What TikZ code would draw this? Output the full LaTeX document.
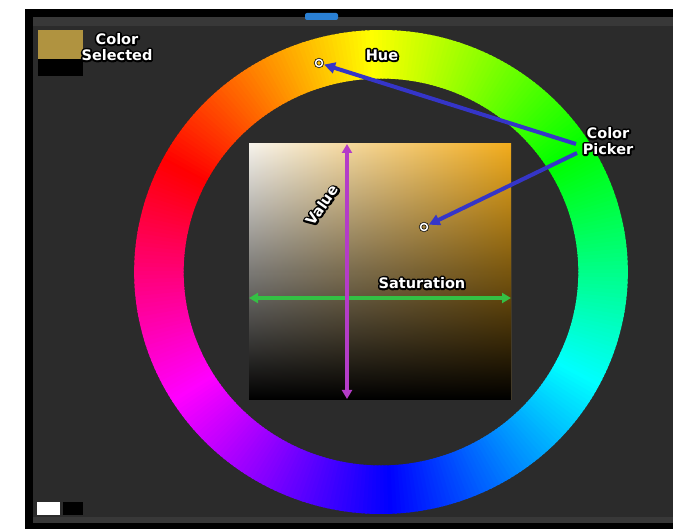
\documentclass[tikz,border=0pt]{standalone}
\usepackage{fontspec}
\setmainfont{DejaVu Sans}
\usetikzlibrary{arrows.meta,fadings}
\definecolor{panel}{HTML}{2B2B2B}
\definecolor{strip}{HTML}{383838}
\definecolor{tabblue}{HTML}{2A80D4}
\definecolor{gold}{HTML}{B09340}
\definecolor{pickblue}{HTML}{3535C8}
\definecolor{valpurple}{HTML}{B43CC8}
\definecolor{satgreen}{HTML}{34C044}
\definecolor{sqwhite}{HTML}{F6F3EC}
\definecolor{sqorange}{HTML}{F2AC1C}
\tikzfading[name=fadedown, top color=transparent!100, bottom color=transparent!0]
\newcommand\olt[1]{\leavevmode\rlap{\textcolor{black}{\special{pdf:literal 1 Tr 3.6 w 1 j 1 J 0 0 0 RG}#1\special{pdf:literal 0 Tr}}}\textcolor{white}{#1}}
\begin{document}
\begin{tikzpicture}[x=1pt,y=-1pt,
  lbl/.style={font=\bfseries\fontsize{14.5}{16}\selectfont, align=center, inner sep=0pt},
  pickr/.style={circle, draw=black, double=white, double distance=1.6pt, line width=0.7pt, minimum size=7pt, inner sep=0pt},
  bluearrow/.style={pickblue, line width=4pt, -{Triangle[length=11pt,width=11pt]}, shorten >=1.5pt},
  dblarrow/.style={line width=3.6pt, {Triangle[length=9pt,width=10pt]}-{Triangle[length=9pt,width=10pt]}}]
\useasboundingbox (0,0) rectangle (673,529);
% frame
\fill[white] (0,0) rectangle (673,529);
\fill[black] (25,9) rectangle (673,529);
\fill[strip] (33,17) rectangle (673,26);
\fill[panel] (33,26) rectangle (673,517);
\fill[strip] (33,517) rectangle (673,523);
\fill[tabblue, rounded corners=2pt] (305,13) rectangle (338,20);
% swatches
\fill[gold] (38,30) rectangle (83,59);
\fill[black] (38,59) rectangle (83,76);
\fill[white] (37,502) rectangle (60,515);
\fill[black] (63,502) rectangle (83,515);
% hue wheel
\begin{scope}[shift={(381,272)}, yscale=-1, xscale=1.02]
\foreach \h in {0,...,359}{
  \pgfmathsetmacro\aa{152-\h-0.7}
  \pgfmathsetmacro\ab{152-\h+0.7}
  \definecolor{hc}{Hsb}{\h,1,1}
  \fill[hc] (\aa:193.5) arc[start angle=\aa, end angle=\ab, radius=193.5]
     -- (\ab:242) arc[start angle=\ab, end angle=\aa, radius=242] -- cycle;
}
\end{scope}
% SV square
\shade[left color=sqwhite, right color=sqorange] (249,144) rectangle (511,400);
\fill[black, path fading=fadedown] (249,144) rectangle (511,400);
% arrows in square
\coordinate (vt) at (347,144);
\coordinate (vb) at (347,399);
\coordinate (sl) at (249,298);
\coordinate (sr) at (511,298);
\draw[dblarrow, satgreen] (sl) -- (sr);
\draw[dblarrow, valpurple] (vt) -- (vb);
% pickers
\node[pickr] (hp) at (319,63) {};
\node[pickr] (sp) at (424,227) {};
% labels
\node[lbl] (sellbl) at (117,47) {\olt{Color}\\\olt{Selected}};
\node[lbl] (huelbl) at (382,55) {\olt{Hue}};
\node[lbl] (pklbl) at (608,141) {\olt{Color}\\\olt{Picker}};
\node[lbl, rotate=55] (vallbl) at (322,205) {\olt{Value}};
\node[lbl] (satlbl) at (422,283) {\olt{Saturation}};
\coordinate (ps1) at (576,144);
\coordinate (ps2) at (577,153);
\draw[bluearrow] (ps1) -- (hp);
\draw[bluearrow] (ps2) -- (sp);
\end{tikzpicture}
\end{document}
